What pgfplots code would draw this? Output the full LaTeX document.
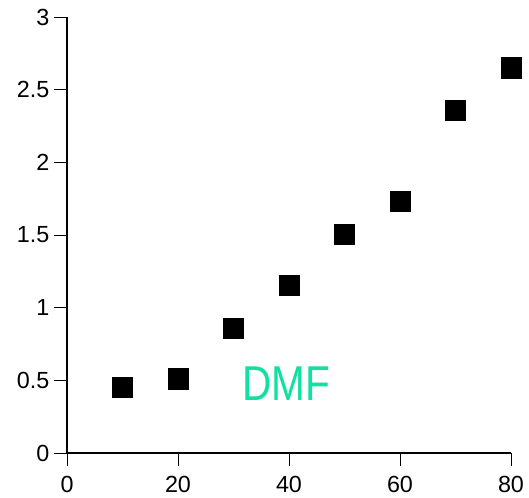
\documentclass[border=0pt]{standalone}
\usepackage{pgfplots}
\pgfplotsset{compat=1.18}
\usepackage{fontspec}
\setmainfont{Liberation Sans}
\definecolor{dmfgreen}{HTML}{10E0A0}
\begin{document}
\begin{tikzpicture}
\begin{axis}[
  scale only axis,
  width=333pt, height=327pt,
  xmin=0, xmax=80, ymin=0, ymax=3,
  axis lines*=left,
  axis line style={line width=0.9pt},
  xtick={0,20,40,60,80},
  ytick={0,0.5,1,1.5,2,2.5,3},
  tick align=outside,
  major tick length=10pt,
  tick style={line width=0.7pt, black},
  tick label style={font=\fontsize{17.5}{20}\selectfont},
  xticklabel style={inner sep=2pt, yshift=-5pt},
  yticklabel style={inner sep=3pt},
  /pgf/number format/assume math mode=true,
  clip=false,
]
\addplot[only marks, mark=square*, mark size=7.6pt, black] coordinates {
  (10,0.45) (20,0.51) (30,0.86) (40,1.155) (50,1.505) (60,1.73) (70,2.36) (80,2.65)
};
\node[text=dmfgreen, font=\fontsize{36.7}{40}\selectfont, anchor=center, inner sep=0pt]
  at (axis cs:39.46,0.475) {\scalebox{0.83}[1]{DMF}};
\end{axis}
\pgfresetboundingbox
\useasboundingbox (-50.25pt,-33.75pt) rectangle (346.5pt,339.75pt);
\end{tikzpicture}
\end{document}
